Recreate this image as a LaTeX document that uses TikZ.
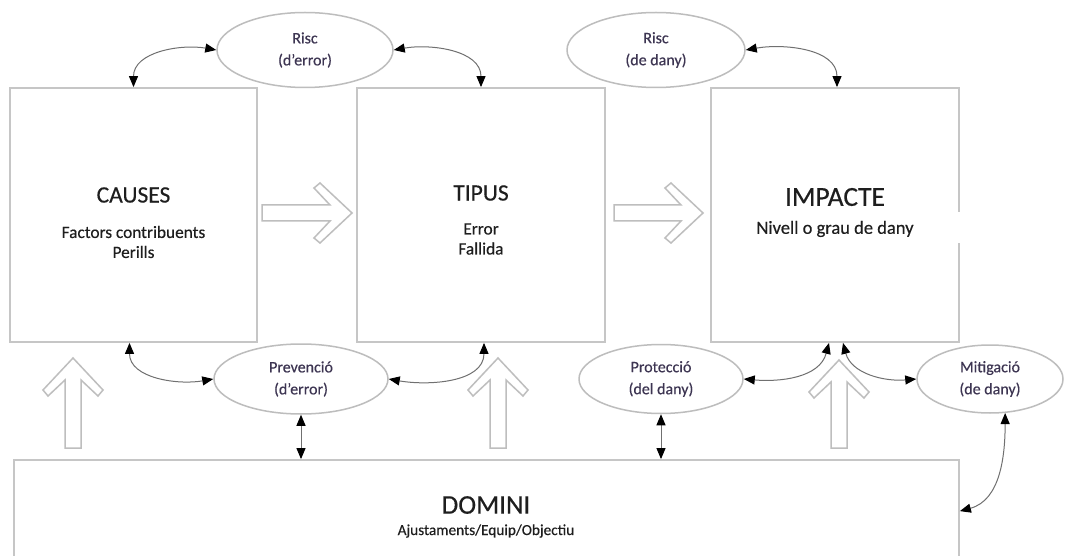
\documentclass[tikz,border=0pt]{standalone}
\usepackage{fontspec}
\setmainfont{Carlito}[FakeBold=0.35]
\usetikzlibrary{arrows.meta,calc,shapes.geometric}

\definecolor{boxgray}{HTML}{C6C6C6}
\definecolor{ellgray}{HTML}{BDBDBD}
\definecolor{fatgray}{HTML}{BEBEBE}
\definecolor{conngray}{HTML}{707070}
\definecolor{inkdark}{HTML}{1E1E1E}
\definecolor{inkell}{HTML}{3D3552}

\tikzset{
  box/.style={draw=boxgray, line width=1.8pt, inner sep=0pt, fill=white},
  bubble/.style={ellipse, draw=ellgray, line width=1.5pt, inner sep=0pt,
    fill=white, align=center, text=inkell,
    font=\fontsize{16}{22}\selectfont},
  title/.style={text=inkdark, font=\fontsize{23.5}{26}\selectfont},
  subtext/.style={text=inkdark, align=center, font=\fontsize{17.3}{20}\selectfont},
  conn/.style={draw=conngray, line width=1pt,
    {Triangle[length=11pt,width=9pt,color=black]}-{Triangle[length=11pt,width=9pt,color=black]}},
  fatline/.style={draw=fatgray, line width=1.5pt, fill=white, line join=miter},
  pics/fatarrow/.style={code={
    % hollow block arrow, tip at the origin, shaft of length #1 below it
    \draw[fatline] (0,0) -- (30,32) -- (25,38) -- (8,22) -- (8,#1)
      -- (-8,#1) -- (-8,22) -- (-25,38) -- (-30,32) -- cycle;}}
}

\begin{document}
\begin{tikzpicture}[x=1pt,y=-1pt]
\useasboundingbox (0,0) rectangle (1077,556);
\clip (0,0) rectangle (1077,556);
\fill[white] (0,0) rectangle (1077,556);

% main boxes
\node[box, minimum width=247pt, minimum height=254pt] (causes) at (133.5,215) {};
\node[box, minimum width=248pt, minimum height=254pt] (tipus) at (481,215) {};
\node[box, minimum width=248pt, minimum height=254pt] (impacte) at (835,215) {};
\node[box, minimum width=945pt, minimum height=130pt] (domini) at (486.5,525) {};

% break in the right side of the impact box
\fill[white] ($(impacte.east)+(-3,-3)$) rectangle ($(impacte.east)+(3,28)$);

% box texts
\node[title] (causesT) at ($(causes.center)+(0,-20)$) {CAUSES};
\node[subtext] (causesS) at ($(causes.center)+(0,27)$) {Factors contribuents\\Perills};
\node[title] (tipusT) at ($(tipus.center)+(0,-22)$) {TIPUS};
\node[subtext] (tipusS) at ($(tipus.center)+(0,24)$) {Error\\Fallida};
\node[title, font=\fontsize{27.5}{30}\selectfont] (impacteT) at ($(impacte.center)+(0,-18)$) {IMPACTE};
\node[subtext, font=\fontsize{18.5}{21}\selectfont] (impacteS) at ($(impacte.center)+(0,14)$) {Nivell o grau de dany};
\node[title, font=\fontsize{27}{30}\selectfont] (dominiT) at (486,505) {DOMINI};
\node[subtext, font=\fontsize{15.3}{18}\selectfont] (dominiS) at (486,531) {Ajustaments/Equip/Objectiu};

% hollow block arrows
\pic[rotate=-90] at (352,213) {fatarrow=90};
\pic[rotate=-90] at (703,213) {fatarrow=89};
\pic at (73,358) {fatarrow=90};
\pic at (498,358) {fatarrow=90};
\pic at (839,360) {fatarrow=88};

% ellipses
\node[bubble, minimum width=176pt, minimum height=75pt] (rde) at (305,50) {Risc\\(d’error)};
\node[bubble, minimum width=178pt, minimum height=75pt] (rdd) at (656,50) {Risc\\(de dany)};
\node[bubble, minimum width=174pt, minimum height=70pt] (prev) at (301,379) {Prevenció\\(d’error)};
\node[bubble, minimum width=164pt, minimum height=69pt] (prot) at (661,379) {Protecció\\(del dany)};
\node[bubble, minimum width=146pt, minimum height=68pt] (mit) at (990,379) {Mitigació\\(de dany)};

% curved two-way connectors
\draw[conn] (causes.north) to[out=90,in=170] (rde.west);
\draw[conn] (rde.east) to[out=10,in=90] (tipus.north);
\draw[conn] (rdd.east) to[out=10,in=90] ([xshift=2pt]impacte.north);
\draw[conn] ([xshift=-4pt]causes.south) to[out=-90,in=190] (prev.west);
\draw[conn] (prev.east) to[out=-10,in=-90] ([xshift=3pt]tipus.south);
\draw[conn] (prot.east) to[out=-5,in=-105] ([xshift=-6pt]impacte.south);
\draw[conn] (mit.west) to[out=185,in=-75] ([xshift=8pt]impacte.south);
\draw[conn] (mit.-66) to[out=-90,in=15] ($(domini.north east)+(0,52)$);

% straight two-way connectors to the domain box
\draw[conn] (prev.south) -- (prev.south |- domini.north);
\draw[conn] (prot.south) -- (prot.south |- domini.north);
\end{tikzpicture}
\end{document}
